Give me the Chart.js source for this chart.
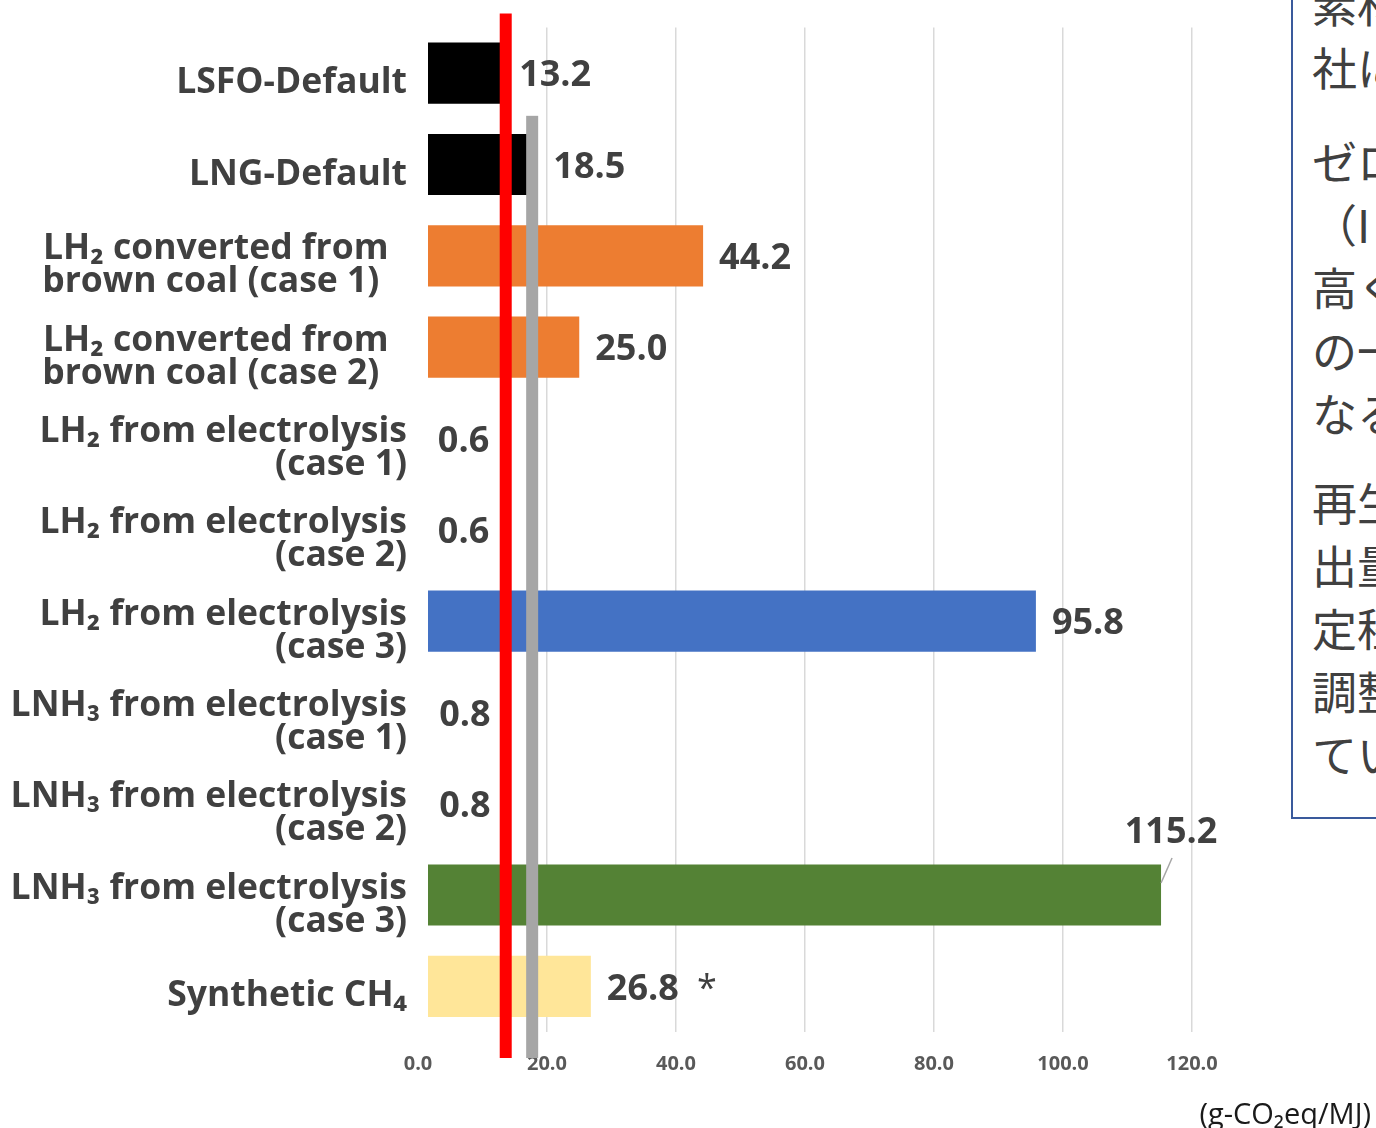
<!DOCTYPE html>
<html>
<head>
<meta charset="utf-8">
<script src="https://cdn.jsdelivr.net/npm/chart.js@4.4.1/dist/chart.umd.min.js"></script>
<style>
  html, body { margin: 0; padding: 0; background: #fff; overflow: hidden; }
  #wrap { position: relative; width: 1376px; height: 1128px; overflow: hidden; }
  #chart { position: absolute; left: 0; top: 0; }
  #note {
    position: absolute; left: 1291px; top: -30px; width: 320px; height: 849px;
    box-sizing: border-box; border: 2px solid #3A5A9C; background: #fff;
    padding: 0 0 0 19px;
    font-family: "Noto Sans CJK JP", sans-serif; font-size: 45px; color: #404040;
    white-space: nowrap;
  }
  #note p { margin: 0; line-height: 63px; }
  #note p.gap1 { margin-bottom: 31px; }
  #note p.gap2 { margin-bottom: 26px; }
  #unit {
    position: absolute; right: 5px; top: 1093px;
    font-family: "Open Sans", "Noto Sans", sans-serif; font-size: 29px; color: #1a1a1a;
  }
</style>
</head>
<body>
<div id="wrap">
  <canvas id="chart" width="1376" height="1128"></canvas>
  <div id="note">
    <p>素材</p>
    <p class="gap1">社に</p>
    <p>ゼロ</p>
    <p>（I</p>
    <p>高く</p>
    <p>の一</p>
    <p class="gap2">なる</p>
    <p>再生</p>
    <p>出量</p>
    <p>定程</p>
    <p>調整</p>
    <p>てい</p>
  </div>
  <div id="unit">(g-CO₂eq/MJ)</div>
</div>
<script>
// data (brown coal labels are left-aligned in the original, hence the trailing spaces)
const categories = [
  'LSFO-Default',
  'LNG-Default',
  ['LH₂ converted from  ', 'brown coal (case 1)   '],
  ['LH₂ converted from  ', 'brown coal (case 2)   '],
  ['LH₂ from electrolysis', '(case 1)'],
  ['LH₂ from electrolysis', '(case 2)'],
  ['LH₂ from electrolysis', '(case 3)'],
  ['LNH₃ from electrolysis', '(case 1)'],
  ['LNH₃ from electrolysis', '(case 2)'],
  ['LNH₃ from electrolysis', '(case 3)'],
  'Synthetic CH₄'
];
const values = [13.2, 18.5, 44.2, 25.0, 0.6, 0.6, 95.8, 0.8, 0.8, 115.2, 26.8];
const valueNotes = ['', '', '', '', '', '', '', '', '', '', '*'];
const xTicks = [0, 20, 40, 60, 80, 100, 120];
// vertical marker lines (red: LSFO level, grey: LNG level)
const markerValues = [13.6, 17.7];

const barColors = ['#000000', '#000000', '#ED7D31', '#ED7D31', '#4472C4', '#4472C4',
  '#4472C4', '#548235', '#548235', '#548235', '#FFE699'];
const markerColors = ['#FF0000', '#A6A6A6'];

const FONT = '"Open Sans", "Noto Sans", "DejaVu Sans", sans-serif';

const overlay = {
  id: 'overlay',
  afterDatasetsDraw(chart) {
    const { ctx, chartArea, scales: { x, y } } = chart;
    const meta = chart.getDatasetMeta(0);
    const zero = x.getPixelForValue(0);
    ctx.save();

    // small white gap between axis and bars
    ctx.fillStyle = '#fff';
    ctx.fillRect(zero - 1, chartArea.top, 11, chartArea.bottom - chartArea.top);

    // marker lines
    const rowGap = (y.getPixelForTick(1) - y.getPixelForTick(0)) / 2;
    markerValues.forEach((v, i) => {
      const px = x.getPixelForValue(v);
      const top = i === 0 ? chartArea.top - 14 : y.getPixelForTick(0) + rowGap - 3;
      ctx.fillStyle = markerColors[i];
      ctx.fillRect(px - 6, top, 12, chartArea.bottom + 26 - top);
    });

    // value labels
    ctx.fillStyle = '#404040';
    ctx.textBaseline = 'middle';
    meta.data.forEach((bar, i) => {
      const txt = values[i].toFixed(1);
      ctx.font = 'bold 36px ' + FONT;
      const w = ctx.measureText(txt).width;
      const lx = bar.x + 16;
      const ly = bar.y + 3;
      if (lx + w > chartArea.right) {
        // no room: put it above the bar end with a leader line
        ctx.textAlign = 'center';
        ctx.fillText(txt, bar.x + 10, bar.y - 62);
        ctx.strokeStyle = '#A6A6A6';
        ctx.lineWidth = 1.5;
        ctx.beginPath();
        ctx.moveTo(bar.x, bar.y - 12);
        ctx.lineTo(bar.x + 11, bar.y - 37);
        ctx.stroke();
      } else {
        ctx.textAlign = 'left';
        ctx.fillText(txt, lx, ly);
        if (valueNotes[i]) {
          ctx.font = '36px ' + FONT;
          ctx.fillText(valueNotes[i], lx + w + 18, ly);
        }
      }
    });
    ctx.restore();
  }
};

new Chart(document.getElementById('chart').getContext('2d'), {
  type: 'bar',
  data: {
    labels: categories,
    datasets: [{
      data: values,
      backgroundColor: barColors,
      categoryPercentage: 1,
      barPercentage: 0.67
    }]
  },
  options: {
    indexAxis: 'y',
    responsive: false,
    animation: false,
    layout: { padding: { top: 26, right: 184, left: 0, bottom: 0 } },
    plugins: { legend: { display: false }, tooltip: { enabled: false } },
    scales: {
      x: {
        min: 0,
        max: 120,
        afterBuildTicks: s => { s.ticks = xTicks.map(v => ({ value: v })); },
        afterFit: s => { s.height = 96; },
        border: { display: false },
        grid: {
          color: c => (c.tick && c.tick.value === 0) ? 'rgba(0,0,0,0)' : '#D9D9D9',
          lineWidth: 1.5,
          drawTicks: false
        },
        ticks: {
          padding: 20,
          color: '#595959',
          font: { family: FONT, size: 20, weight: 'bold' },
          callback: v => Number(v).toFixed(1)
        }
      },
      y: {
        afterFit: s => { s.width = 418; },
        border: { display: false },
        grid: { display: false, drawTicks: false },
        ticks: {
          padding: 11,
          labelOffset: 10,
          color: '#404040',
          font: { family: FONT, size: 35.5, weight: 'bold', lineHeight: 0.93 }
        }
      }
    }
  },
  plugins: [overlay]
});
</script>
</body>
</html>
